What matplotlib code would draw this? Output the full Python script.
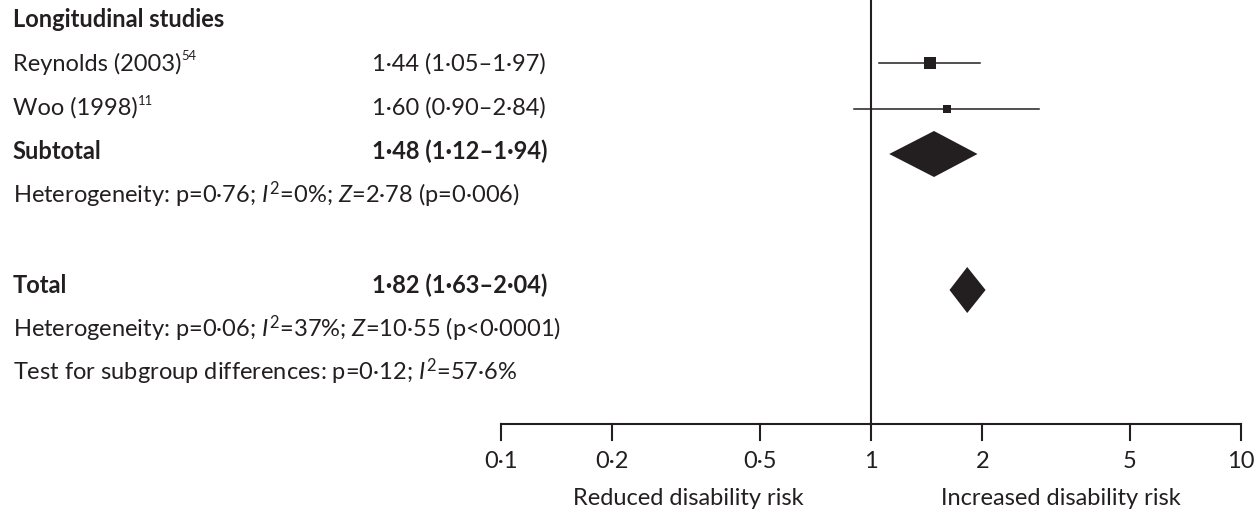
import matplotlib as mpl
import matplotlib.pyplot as plt

mpl.rcParams['font.family'] = ['Lato', 'DejaVu Sans']
mpl.rcParams['mathtext.fontset'] = 'custom'
mpl.rcParams['mathtext.rm'] = 'Lato'
mpl.rcParams['mathtext.it'] = 'Lato:italic'
mpl.rcParams['mathtext.bf'] = 'Lato:bold'

# data
studies = ['Reynolds (2003)', 'Woo (1998)']
refs = ['54', '11']
study_or = [1.44, 1.60]
study_lo = [1.05, 0.90]
study_hi = [1.97, 2.84]
study_box = [8.4, 6.4]          # square size (weight)

subtotal = (1.48, 1.12, 1.94)
total = (1.82, 1.63, 2.04)

ticks = [0.1, 0.2, 0.5, 1, 2, 5, 10]
tick_labels = ['0·1', '0·2', '0·5', '1', '2', '5', '10']

het_sub = 'Heterogeneity: p=0·76; $I^2$=0%; $Z$=2·78 (p=0·006)'
het_tot = 'Heterogeneity: p=0·06; $I^2$=37%; $Z$=10·55 (p<0·0001)'
test_sub = 'Test for subgroup differences: p=0·12; $I^2$=57·6%'

ink = '#231f20'
fs = 17


def fmt(est, lo, hi):
    return f'{est:.2f} ({lo:.2f}–{hi:.2f})'.replace('.', '·')


fig = plt.figure(figsize=(12.57, 5.13), dpi=100)
ax = fig.add_axes([0, 0, 1, 1])
ax.set_xscale('log')
ax.set_xlim(10 ** -2.354, 10 ** 1.0432)
ax.set_ylim(513, 0)
ax.axis('off')

tr = ax.get_yaxis_transform()   # x in axes fraction, y in data
xl, xe = 0.0103, 0.296

ax.text(xl, 27, 'Longitudinal studies', transform=tr, fontsize=fs,
        fontweight='bold', color=ink, va='baseline')

# study rows: (mark row, text baseline)
rows = [(63, 71), (109, 115)]
for name, ref, est, lo, hi, sz, (y, yb) in zip(studies, refs, study_or, study_lo,
                                              study_hi, study_box, rows):
    t = ax.text(xl, yb, name, transform=tr, fontsize=fs, color=ink, va='baseline')
    ax.annotate(ref, xy=(1, 1), xycoords=t, xytext=(0, 2), textcoords='offset points',
                fontsize=fs * 0.55, color=ink, ha='left', va='top')
    ax.text(xe, yb, fmt(est, lo, hi), transform=tr, fontsize=fs, color=ink, va='baseline')
    ax.plot([lo, hi], [y, y], color=ink, lw=1.1)
    ax.plot(est, y, marker='s', ms=sz, color=ink, mew=0)

for lab, (est, lo, hi), y, yb in [('Subtotal', subtotal, 154, 159), ('Total', total, 290, 293)]:
    ax.text(xl, yb, lab, transform=tr, fontsize=fs, fontweight='bold', color=ink, va='baseline')
    ax.text(xe, yb, fmt(est, lo, hi), transform=tr, fontsize=fs, fontweight='bold',
            color=ink, va='baseline')
    ax.fill([lo, est, hi, est], [y, y - 23, y, y + 23], color=ink, lw=0)

for txt, yb in [(het_sub, 203), (het_tot, 337), (test_sub, 380)]:
    ax.text(xl, yb, txt, transform=tr, fontsize=fs, color=ink, va='baseline')

# reference line and axis
y_axis = 424
ax.plot([1, 1], [0, y_axis], color=ink, lw=1.5)
ax.plot([ticks[0], ticks[-1]], [y_axis, y_axis], color=ink, lw=1.5)
for t, lab in zip(ticks, tick_labels):
    ax.plot([t, t], [y_axis, y_axis + 16], color=ink, lw=1.5)
    ax.text(t, 468, lab, fontsize=fs, color=ink, ha='center', va='baseline')

ax.text(0.32, 505, 'Reduced disability risk', fontsize=fs, color=ink, ha='center', va='baseline')
ax.text(3.26, 505, 'Increased disability risk', fontsize=fs, color=ink, ha='center', va='baseline')

fig.savefig('out.png', dpi=100, facecolor='white')
